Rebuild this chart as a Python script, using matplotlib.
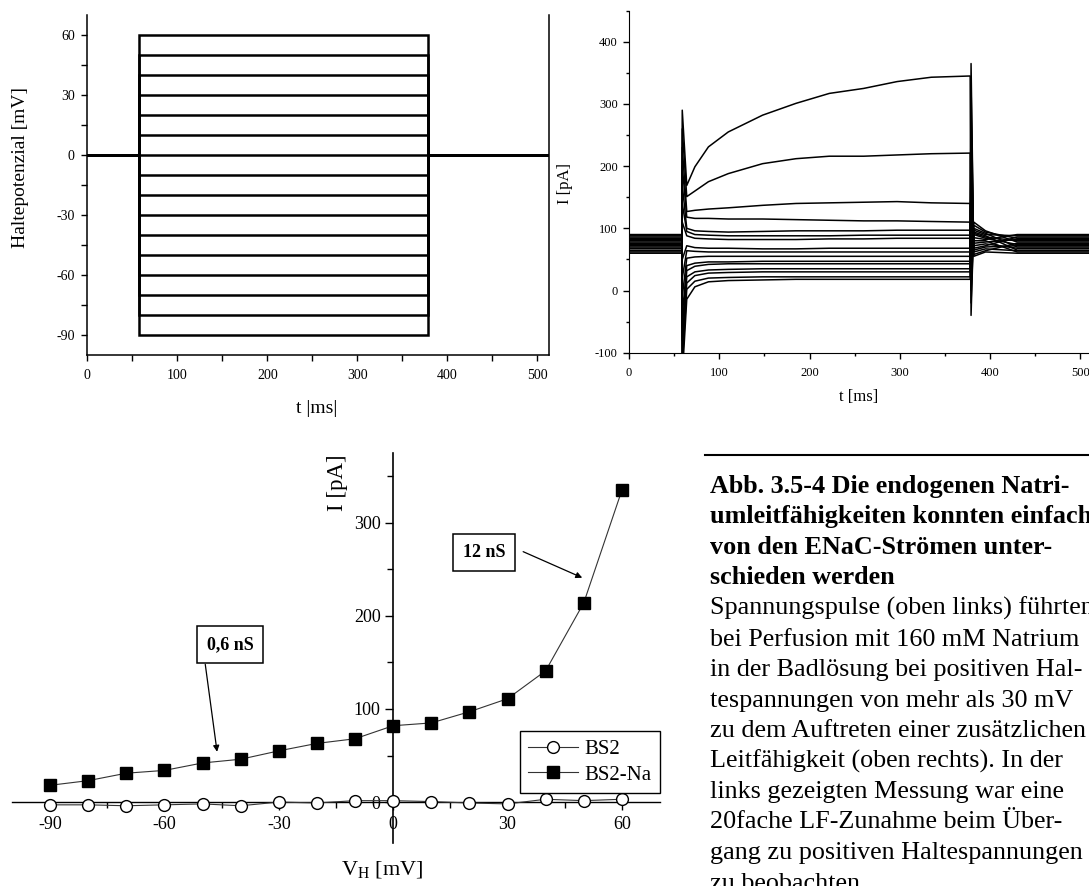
import matplotlib
matplotlib.use("Agg")
import matplotlib.pyplot as plt
from matplotlib.lines import Line2D
from matplotlib.ticker import MultipleLocator

plt.rcParams['font.family'] = ['Liberation Serif', 'DejaVu Serif']
plt.rcParams['mathtext.fontset'] = 'custom'
plt.rcParams['mathtext.rm'] = 'Liberation Serif'
plt.rcParams['axes.unicode_minus'] = False

# --- voltage protocol (top left) ---
step_mv = [60, 50, 40, 30, 20, 10, 0, -10, -20, -30, -40, -50, -60, -70, -80, -90]
pulse_on = 57.5
pulse_off = 378

# --- current traces (top right), one row per voltage step ---
cur_on = 59
cur_off = 379
baseline = [78, 84, 70, 88, 65, 80, 74, 90, 62, 82, 68, 86, 72, 64, 76, 60]
on_spike = [290, 260, 230, 200, 170, 140, 110, 50, 20, -10, -40, -60, -80, -100, -120, -140]
off_spike = [-40, -20, 0, 20, 45, 65, 85, 110, 140, 170, 200, 230, 260, 290, 330, 365]
level_t = [64, 73, 88, 110, 148, 185, 222, 260, 297, 335, 378]
levels = [
    [169, 199, 231, 255, 282, 301, 317, 325, 336, 343, 345],
    [151, 160, 175, 188, 204, 212, 216, 216, 218, 220, 221],
    [127, 129, 131, 133, 137, 140, 141, 142, 143, 141, 140],
    [118, 116, 116, 115, 115, 114, 113, 112, 112, 111, 110],
    [100, 96, 95, 94, 95, 96, 96, 96, 97, 97, 97],
    [95, 90, 89, 88, 88, 88, 88, 89, 89, 89, 89],
    [88, 84, 83, 82, 82, 82, 83, 83, 84, 84, 84],
    [72, 69, 68, 68, 67, 67, 68, 68, 68, 68, 68],
    [64, 63, 62, 62, 62, 62, 62, 62, 62, 62, 62],
    [52, 54, 55, 55, 55, 55, 55, 55, 55, 55, 55],
    [40, 44, 46, 46, 47, 47, 47, 47, 47, 47, 47],
    [32, 39, 42, 43, 43, 43, 43, 43, 43, 43, 43],
    [22, 30, 33, 34, 35, 35, 35, 35, 35, 35, 35],
    [12, 24, 28, 29, 30, 30, 30, 30, 30, 30, 30],
    [2, 15, 20, 21, 22, 22, 22, 22, 22, 22, 22],
    [-14, 6, 14, 16, 17, 18, 18, 18, 18, 18, 18],
]
tail_t = [382, 395]
tail_a = [110, 105, 100, 97, 94, 92, 90, 85, 80, 76, 72, 68, 65, 62, 58, 55]
tail_b = [96, 94, 92, 90, 88, 86, 84, 82, 80, 78, 75, 72, 70, 67, 64, 62]
post_t = [430, 512]

# --- I/V curve (bottom) ---
vh = [-90, -80, -70, -60, -50, -40, -30, -20, -10, 0, 10, 20, 30, 40, 50, 60]
bs2 = [-3, -3, -4, -3, -2, -4, 0, -1, 1.5, 1.5, 0.5, -1, -2, 3, 1.5, 3]
bs2_na = [18, 23, 31, 34, 42, 46, 55, 63, 68, 82, 85, 97, 111, 141, 214, 335]

caption_bold = ["Abb. 3.5-4 Die endogenen Natri-",
                "umleitfähigkeiten konnten einfach",
                "von den ENaC-Strömen unter-",
                "schieden werden"]
caption_text = ["Spannungspulse (oben links) führten",
                "bei Perfusion mit 160 mM Natrium",
                "in der Badlösung bei positiven Hal-",
                "tespannungen von mehr als 30 mV",
                "zu dem Auftreten einer zusätzlichen",
                "Leitfähigkeit (oben rechts). In der",
                "links gezeigten Messung war eine",
                "20fache LF-Zunahme beim Über-",
                "gang zu positiven Haltespannungen",
                "zu beobachten."]

W, H = 1089, 886
fig = plt.figure(figsize=(W / 100, H / 100), dpi=100, facecolor='white')


def rect(x0, y0, x1, y1):
    # pixel box -> figure fraction
    return [x0 / W, 1 - y1 / H, (x1 - x0) / W, (y1 - y0) / H]


# ---------------- top left: voltage steps ----------------
ax1 = fig.add_axes(rect(87.3, 15, 549, 355))
for v in step_mv:
    ax1.plot([0, pulse_on, pulse_on, pulse_off, pulse_off, 513],
             [0, 0, v, v, 0, 0], color='black', lw=1.8, solid_joinstyle='miter')
ax1.set_xlim(0, 513)
ax1.set_ylim(-100, 70)
ax1.spines['top'].set_visible(False)
for s in ['left', 'bottom', 'right']:
    ax1.spines[s].set_linewidth(1.1)
ax1.xaxis.set_major_locator(MultipleLocator(100))
ax1.xaxis.set_minor_locator(MultipleLocator(50))
ax1.yaxis.set_major_locator(MultipleLocator(30))
ax1.yaxis.set_minor_locator(MultipleLocator(15))
ax1.tick_params(which='both', direction='out', length=4, width=1, labelsize=10)
ax1.tick_params(axis='x', pad=6)
ax1.tick_params(axis='y', pad=5)
fig.text(21 / W, 1 - 167 / H, "Haltepotenzial [mV]", rotation=90,
         ha='center', va='center', fontsize=14)
fig.text(317 / W, 1 - 408 / H, "t |ms|", ha='center', va='center', fontsize=14)

# ---------------- top right: current traces ----------------
ax2 = fig.add_axes(rect(629, 10.7, 1091.1, 352.7))
for i in range(len(step_mv)):
    t = [0, cur_on - 0.5, cur_on] + level_t + [cur_off] + tail_t + post_t
    y = ([baseline[i], baseline[i], on_spike[i]] + levels[i] + [off_spike[i]]
         + [tail_a[i], tail_b[i]] + [baseline[i], baseline[i]])
    ax2.plot(t, y, color='black', lw=1.1)
ax2.set_xlim(0, 512)
ax2.set_ylim(-100, 450)
ax2.spines['top'].set_visible(False)
ax2.spines['right'].set_visible(False)
ax2.xaxis.set_major_locator(MultipleLocator(100))
ax2.xaxis.set_minor_locator(MultipleLocator(50))
ax2.yaxis.set_major_locator(MultipleLocator(100))
ax2.yaxis.set_minor_locator(MultipleLocator(50))
ax2.tick_params(which='major', direction='out', length=4.5, width=1, labelsize=9)
ax2.tick_params(which='minor', direction='out', length=2.2, width=1)
ax2.tick_params(axis='x', pad=6)
ax2.tick_params(axis='y', pad=3.5)
fig.text(565 / W, 1 - 184 / H, "I [pA]", rotation=90, ha='center', va='center', fontsize=12)
fig.text(859 / W, 1 - 397 / H, "t [ms]", ha='center', va='center', fontsize=12)

# ---------------- bottom: I/V curve ----------------
ax3 = fig.add_axes(rect(12, 453, 660, 843))
ax3.plot(vh, bs2, color='#333333', lw=0.8, marker='o', ms=8.5, mfc='white',
         mec='black', mew=1.0, label='BS2', zorder=4, clip_on=False)
ax3.plot(vh, bs2_na, color='#333333', lw=0.8, marker='s', ms=8, mfc='black',
         mec='black', label='BS2-Na', zorder=4, clip_on=False)
ax3.set_xlim(-100, 70)
ax3.set_ylim(-44, 375)
ax3.spines['left'].set_position(('data', 0))
ax3.spines['bottom'].set_position(('data', 0))
ax3.spines['top'].set_visible(False)
ax3.spines['right'].set_visible(False)
ax3.spines['left'].set_linewidth(1.2)
ax3.spines['bottom'].set_linewidth(1.0)
ax3.set_xticks([-90, -60, -30, 0, 30, 60])
ax3.set_xticks([-75, -45, -15, 15, 45], minor=True)
ax3.set_yticks([0, 100, 200, 300])
ax3.set_yticks([50, 150, 250, 350], minor=True)
ax3.tick_params(which='major', direction='out', length=6, width=1, labelsize=13)
ax3.tick_params(which='minor', direction='out', length=4, width=1)
ax3.tick_params(axis='x', pad=4)
ax3.tick_params(axis='y', pad=3)
fig.text(337 / W, 1 - 483 / H, "I [pA]", rotation=90, ha='center', va='center', fontsize=16.5)
fig.text(382 / W, 1 - 870 / H, r"V$_\mathregular{H}$ [mV]", ha='center', va='center', fontsize=16)

box = dict(boxstyle='square,pad=0.55', fc='white', ec='black', lw=1.1)
arrow = dict(arrowstyle='-|>', color='black', lw=0.9, mutation_scale=9, shrinkA=0, shrinkB=0)
ax3.text(-42.8, 169, "0,6 nS", ha='center', va='center', fontsize=13,
         fontweight='bold', bbox=box, zorder=5)
ax3.annotate("", xy=(-46.2, 54), xytext=(-49.3, 148), arrowprops=arrow)
ax3.text(23.9, 268, "12 nS", ha='center', va='center', fontsize=13,
         fontweight='bold', bbox=box, zorder=5)
ax3.annotate("", xy=(49.6, 241), xytext=(34.1, 269), arrowprops=arrow)

leg = ax3.legend(loc='lower right', bbox_to_anchor=(1.0, 0.128), fontsize=15,
                 frameon=True, fancybox=False, edgecolor='black', framealpha=1,
                 handlelength=2.4, handletextpad=0.3, labelspacing=0.3,
                 borderpad=0.4, borderaxespad=0)
leg.get_frame().set_linewidth(1.0)

# ---------------- caption ----------------
fig.add_artist(Line2D([705 / W, 1.0], [1 - 455 / H, 1 - 455 / H], color='black', lw=1.5))
y0 = 493
for k, line in enumerate(caption_bold + caption_text):
    fig.text(710 / W, 1 - (y0 + 30.5 * k) / H, line, ha='left', va='baseline',
             fontsize=18.8, fontweight='bold' if k < len(caption_bold) else 'normal')

fig.savefig("out.png", dpi=100, facecolor='white')
